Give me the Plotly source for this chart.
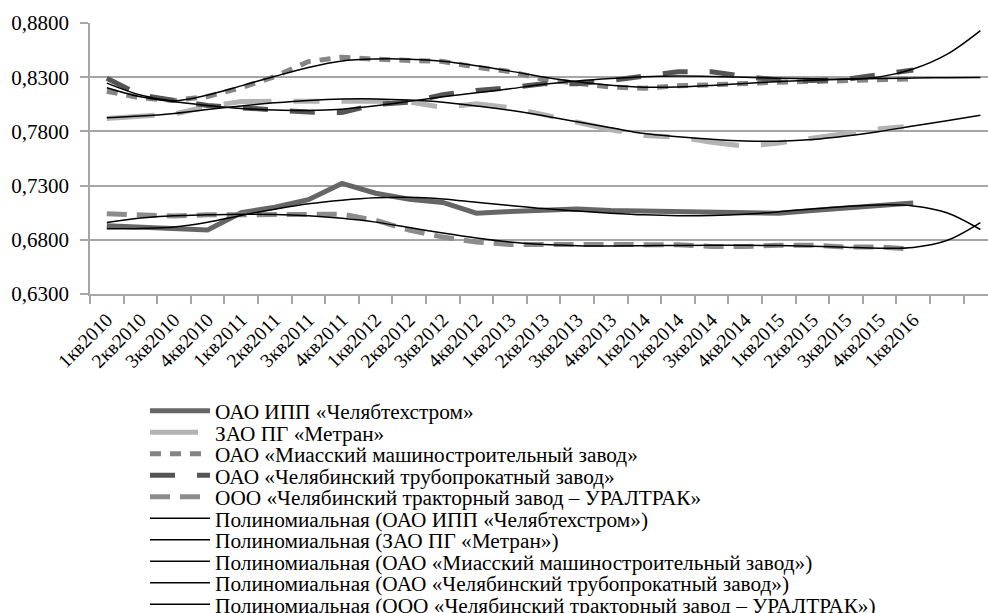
import numpy as np
import plotly.graph_objects as go

quarters = ["1кв2010", "2кв2010", "3кв2010", "4кв2010",
            "1кв2011", "2кв2011", "3кв2011", "4кв2011",
            "1кв2012", "2кв2012", "3кв2012", "4кв2012",
            "1кв2013", "2кв2013", "3кв2013", "4кв2013",
            "1кв2014", "2кв2014", "3кв2014", "4кв2014",
            "1кв2015", "2кв2015", "3кв2015", "4кв2015",
            "1кв2016"]

# --- data series ---
chelyabtehstrom = [0.693, 0.692, 0.6905, 0.689, 0.705, 0.710, 0.717, 0.732,
                   0.723, 0.7175, 0.7145, 0.7045, 0.706, 0.7075, 0.7085, 0.707,
                   0.7065, 0.7065, 0.7065, 0.706, 0.7045, 0.707, 0.709, 0.7115, 0.714]
metran = [0.792, 0.794, 0.796, 0.803, 0.8075, 0.8078, 0.808, 0.808,
          0.8077, 0.8073, 0.802, 0.8055, 0.802, 0.7955, 0.789, 0.7815,
          0.7763, 0.7748, 0.770, 0.7662, 0.7693, 0.7733, 0.778, 0.7825, 0.785]
miass = [0.8171, 0.811, 0.8085, 0.8122, 0.8202, 0.8306, 0.8444, 0.8484,
         0.8466, 0.8454, 0.8445, 0.8392, 0.8352, 0.8279, 0.8239, 0.8208,
         0.8199, 0.8221, 0.823, 0.8245, 0.8254, 0.826, 0.827, 0.8282, 0.8285]
truboprokat = [0.829, 0.8135, 0.8085, 0.8039, 0.8018, 0.8002, 0.7978, 0.7975,
               0.8049, 0.807, 0.8138, 0.8178, 0.8202, 0.8239, 0.8239, 0.827,
               0.8311, 0.835, 0.835, 0.8305, 0.8275, 0.827, 0.828, 0.8325, 0.8367]
uraltrak = [0.704, 0.703, 0.702, 0.703, 0.703, 0.7036, 0.703, 0.7036,
            0.698, 0.689, 0.6825, 0.6779, 0.6757, 0.6757, 0.6757, 0.676,
            0.676, 0.6755, 0.6738, 0.6738, 0.675, 0.675, 0.6733, 0.6733, 0.6713]

# --- polynomial trend lines (25 periods + 2 forecast) ---
trend_chelyabtehstrom = [0.6901, 0.6905, 0.6918, 0.6962, 0.7025, 0.7082, 0.7132, 0.7166,
                         0.7188, 0.7193, 0.7177, 0.7146, 0.7116, 0.7088, 0.7066, 0.7046,
                         0.7030, 0.7022, 0.7024, 0.7036, 0.7058, 0.7085, 0.7107, 0.7122,
                         0.7112, 0.7050, 0.6895]
trend_metran = [0.7926, 0.7941, 0.7966, 0.8003, 0.8035, 0.8064, 0.8086, 0.8099,
                0.8100, 0.8090, 0.8070, 0.8035, 0.7995, 0.7944, 0.7889, 0.7834,
                0.7780, 0.7751, 0.7727, 0.7711, 0.7710, 0.7725, 0.7757, 0.7800,
                0.7849, 0.7898, 0.7948]
trend_miass = [0.8202, 0.8119, 0.8082, 0.8135, 0.8220, 0.8308, 0.8390, 0.8450,
               0.8468, 0.8466, 0.8446, 0.8405, 0.8356, 0.8302, 0.8258, 0.8226,
               0.8208, 0.8210, 0.8224, 0.8243, 0.8260, 0.8273, 0.8282, 0.8288,
               0.8292, 0.8295, 0.8298]
trend_truboprokat = [0.8245, 0.8135, 0.8075, 0.8040, 0.8012, 0.7997, 0.7993, 0.8005,
                     0.8036, 0.8077, 0.8119, 0.8156, 0.8193, 0.8234, 0.8265, 0.8288,
                     0.8305, 0.8310, 0.8307, 0.8300, 0.8291, 0.8285, 0.8283, 0.8303,
                     0.8375, 0.8510, 0.8730]
trend_uraltrak = [0.6959, 0.7000, 0.7021, 0.7030, 0.7036, 0.7034, 0.7021, 0.6998,
                  0.6963, 0.6913, 0.6862, 0.6816, 0.6779, 0.6756, 0.6746, 0.6743,
                  0.6745, 0.6748, 0.6750, 0.6750, 0.6747, 0.6741, 0.6731, 0.6723,
                  0.6730, 0.6793, 0.6959]

series_names = ["ОАО ИПП «Челябтехстром»",
                "ЗАО ПГ «Метран»",
                "ОАО «Миасский машиностроительный завод»",
                "ОАО «Челябинский трубопрокатный завод»",
                "ООО «Челябинский тракторный завод – УРАЛТРАК»"]
series_values = [chelyabtehstrom, metran, miass, truboprokat, uraltrak]
trend_values = [trend_chelyabtehstrom, trend_metran, trend_miass,
                trend_truboprokat, trend_uraltrak]
series_colors = ["#666666", "#b3b3b3", "#858585", "#555555", "#8c8c8c"]
series_dashes = ["solid", "48px,22px,26px,22px", "11px,9px", "25px,22px", "20px,10px"]

FONT = "Liberation Serif"
FS_X = 19.5
FS_Y = 21
LEG_FS = 21.3
W, H = 988, 613
L, R, T, B = 90, 0, 23, 319
plot_w = W - L - R
plot_h = H - T - B
cat_px = 33.6
x_right = -0.5 + plot_w / cat_px

fig = go.Figure()

idx = np.arange(len(quarters))
legend_rows_px = [411, 432.5, 454, 475.5, 497, 518.5, 540, 561.5, 583, 604.5]


def paper_y(py):
    return (T + plot_h - py) / plot_h


def paper_x(px):
    return (px - L) / plot_w


k = 0
for name, vals, col, dash in zip(series_names, series_values, series_colors, series_dashes):
    lg = "legend" if k == 0 else f"legend{k+1}"
    fig.add_trace(go.Scatter(x=idx, y=vals, mode="lines", name=name,
                             line=dict(color=col, width=5, dash=dash),
                             legend=lg))
    k += 1

for name, tv in zip(series_names, trend_values):
    lg = f"legend{k+1}"
    fig.add_trace(go.Scatter(x=np.arange(len(tv)), y=tv, mode="lines",
                             name=f"Полиномиальная ({name})",
                             line=dict(color="#000000", width=1.5, shape="spline", smoothing=1.0),
                             legend=lg))
    k += 1

layout_legends = {}
for i, py in enumerate(legend_rows_px):
    key = "legend" if i == 0 else f"legend{i+1}"
    layout_legends[key] = dict(x=paper_x(145), y=paper_y(py), xanchor="left", yanchor="middle",
                               bgcolor="rgba(0,0,0,0)", borderwidth=0,
                               font=dict(family=FONT, size=LEG_FS, color="#000000"),
                               itemwidth=60)

grid_col = "#a6a6a6"
fig.update_layout(
    width=W, height=H,
    margin=dict(l=L, r=R, t=T, b=B, pad=0, autoexpand=False),
    paper_bgcolor="white", plot_bgcolor="white",
    separators=", ",
    font=dict(family=FONT, size=FS_X, color="#000000"),
    showlegend=True,
    **layout_legends,
    xaxis=dict(range=[-0.5, x_right], tickmode="array", tickvals=list(idx), ticktext=quarters,
               tickangle=-45, ticks="outside", ticklen=5, tickcolor="rgba(0,0,0,0)",
               showgrid=False, zeroline=False, showline=True, linecolor=grid_col, linewidth=1.5,
               minor=dict(tick0=-0.5, dtick=1, ticks="outside", ticklen=8, tickcolor=grid_col,
                          tickwidth=1.5, showgrid=False),
               tickfont=dict(family=FONT, size=FS_X)),
    yaxis=dict(range=[0.63, 0.88], tick0=0.63, dtick=0.05, tickformat=".4f",
               ticks="outside", ticklen=8, tickcolor=grid_col, tickwidth=1.5,
               showgrid=True, gridcolor=grid_col, gridwidth=1.5,
               zeroline=False, showline=True, linecolor=grid_col, linewidth=1.5,
               ticklabelstandoff=7,
               tickfont=dict(family=FONT, size=FS_Y)),
)

fig.write_html("out.html", config={"displayModeBar": False},
               post_script="document.body.style.margin='0';document.body.style.overflow='hidden';")
